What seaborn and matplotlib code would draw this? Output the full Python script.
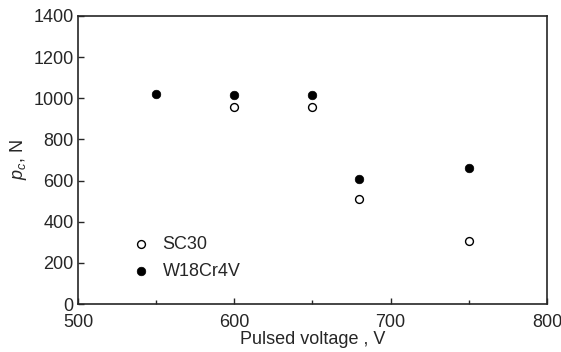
import numpy as np
import pandas as pd
import seaborn as sns
import matplotlib.pyplot as plt
from matplotlib.ticker import MultipleLocator

# values
sc30_voltage = [600, 650, 680, 750]
sc30_load = [955, 955, 510, 305]
w18_voltage = [550, 600, 650, 680, 750]
w18_load = [1020, 1015, 1015, 610, 660]

df = pd.concat([
    pd.DataFrame({'voltage': sc30_voltage, 'load': sc30_load, 'steel': 'SC30'}),
    pd.DataFrame({'voltage': w18_voltage, 'load': w18_load, 'steel': 'W18Cr4V'}),
])

sns.set_style('ticks')
plt.rcParams['font.family'] = ['Liberation Sans', 'DejaVu Sans']
plt.rcParams['mathtext.fontset'] = 'custom'
plt.rcParams['mathtext.it'] = 'Liberation Sans:italic'
plt.rcParams['mathtext.rm'] = 'Liberation Sans'

fig = plt.figure(figsize=(5.61, 3.52), dpi=100)
ax = fig.add_axes([0.139, 0.136, 0.836, 0.819])

sns.scatterplot(data=df[df['steel'] == 'SC30'], x='voltage', y='load', ax=ax,
                s=32, facecolor='white', edgecolor='black', linewidth=1.0, label='SC30')
sns.scatterplot(data=df[df['steel'] == 'W18Cr4V'], x='voltage', y='load', ax=ax,
                s=38, color='black', edgecolor='black', linewidth=0.5, label='W18Cr4V')

ax.set_xlim(500, 800)
ax.set_ylim(0, 1400)
ax.xaxis.set_major_locator(MultipleLocator(100))
ax.xaxis.set_minor_locator(MultipleLocator(50))
ax.yaxis.set_major_locator(MultipleLocator(200))
ax.tick_params(direction='in', which='both', labelsize=13, width=1.0, length=4)
ax.tick_params(which='minor', length=3)
ax.tick_params(axis='x', pad=7)
ax.tick_params(axis='y', pad=3)
for sp in ax.spines.values():
    sp.set_linewidth(1.2)
    sp.set_visible(True)

ax.set_xlabel('Pulsed voltage , V', fontsize=13, labelpad=0)
ax.set_ylabel(r'$p_c$, N', fontsize=13, labelpad=3)

ax.legend(loc='lower left', bbox_to_anchor=(0.08, 0.06), frameon=False, fontsize=13,
          handletextpad=0.2, labelspacing=0.55, borderaxespad=0)

fig.savefig('out.png', dpi=100)
